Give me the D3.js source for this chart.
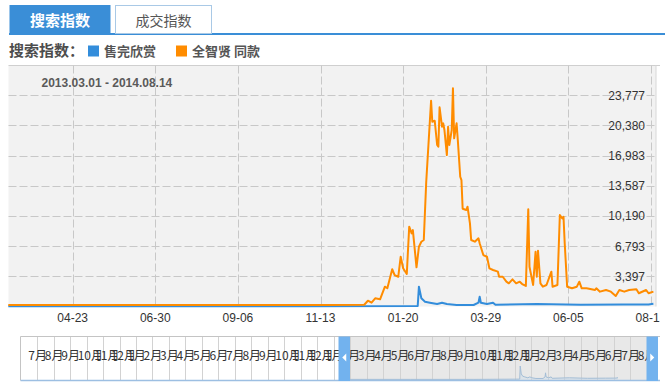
<!DOCTYPE html>
<html><head><meta charset="utf-8">
<script src="https://cdn.jsdelivr.net/npm/d3@7"></script>
<style>
body{margin:0;background:#fff;}
svg{display:block;}
</style></head><body>
<svg id="c" width="665" height="388"></svg>
<script>
// ---------------- data ----------------
const tabLabels = ["搜索指数", "成交指数"];
const legendTitle = "搜索指数：";
const seriesNames = ["售完欣赏", "全智贤 同款"];
const rangeLabel = "2013.03.01 - 2014.08.14";
const dateDomain = ["2013-03-01", "2014-08-14"];

const blueDates = ["2013-03-01","2013-07-01","2013-11-01","2014-02-01","2014-02-02","2014-02-04","2014-02-07","2014-02-11","2014-02-17","2014-02-21","2014-02-25","2014-03-05","2014-03-19","2014-03-23","2014-03-24","2014-03-25","2014-03-30","2014-04-04","2014-04-06","2014-05-10","2014-06-15","2014-07-20","2014-08-10","2014-08-14"];
const blueValues = [20,20,20,60,2230,920,540,430,280,430,280,170,170,430,1100,430,280,430,200,280,200,220,230,300];

const orangeDates = ["2013-03-01","2013-04-15","2013-06-01","2013-07-20","2013-09-01","2013-10-15","2013-11-20","2013-12-19","2013-12-22","2013-12-25","2013-12-28","2014-01-01","2014-01-05","2014-01-07","2014-01-11","2014-01-13","2014-01-16","2014-01-18","2014-01-20","2014-01-23","2014-01-25","2014-01-27","2014-01-28","2014-01-31","2014-02-02","2014-02-04","2014-02-06","2014-02-08","2014-02-12","2014-02-13","2014-02-15","2014-02-17","2014-02-18","2014-02-19","2014-02-21","2014-02-22","2014-02-23","2014-02-25","2014-02-26","2014-02-27","2014-03-01","2014-03-02","2014-03-03","2014-03-05","2014-03-06","2014-03-08","2014-03-09","2014-03-10","2014-03-13","2014-03-14","2014-03-16","2014-03-17","2014-03-20","2014-03-23","2014-03-24","2014-03-27","2014-03-30","2014-04-01","2014-04-04","2014-04-08","2014-04-09","2014-04-12","2014-04-15","2014-04-17","2014-04-20","2014-04-23","2014-04-26","2014-04-28","2014-05-01","2014-05-03","2014-05-04","2014-05-07","2014-05-09","2014-05-10","2014-05-11","2014-05-13","2014-05-15","2014-05-18","2014-05-22","2014-05-23","2014-05-27","2014-05-29","2014-05-31","2014-06-01","2014-06-02","2014-06-04","2014-06-08","2014-06-12","2014-06-14","2014-06-16","2014-06-20","2014-06-27","2014-06-28","2014-07-01","2014-07-06","2014-07-10","2014-07-14","2014-07-17","2014-07-21","2014-07-25","2014-07-31","2014-08-02","2014-08-08","2014-08-10","2014-08-14"];
const orangeValues = [170,160,180,170,160,170,180,200,650,430,920,810,2230,2050,4190,3540,3350,5600,4300,3660,8980,8230,8600,4410,6730,7290,7480,14000,23150,20790,20900,18170,17980,22410,20230,20610,19860,17040,20230,18170,19860,24550,18920,20610,18730,14600,14230,11000,10860,11230,9360,7480,7290,7670,7110,5790,5600,4300,4110,3920,3350,3350,2790,2610,3060,2610,2790,2530,2310,10930,4480,2420,6160,3350,6280,2610,2230,2420,3920,2230,2420,10290,9900,10100,7110,2230,2050,2230,2790,2050,2050,1860,2050,1670,1860,1670,1180,1860,1670,1860,1940,1490,1860,1490,1670];

const xTickDates = ["2013-04-23","2013-06-30","2013-09-06","2013-11-13","2014-01-20","2014-03-29","2014-06-05","2014-08-12"];
const xTickLabels = ["04-23","06-30","09-06","11-13","01-20","03-29","06-05","08-12"];
const yTicks = [3397, 6793, 10190, 13587, 16983, 20380, 23777];
const yTickLabels = ["3,397","6,793","10,190","13,587","16,983","20,380","23,777"];
const navMonthLabels = ["7月","8月","9月","10月","11月","12月","1月","2月","3月","4月","5月","6月","7月","8月","9月","10月","11月","12月","1月","2月","3月","4月","5月","6月","7月","8月","9月","10月","11月","12月","1月","2月","3月","4月","5月","6月","7月","8月"];

// ---------------- drawing ----------------
const parse = d3.timeParse("%Y-%m-%d");
const svg = d3.select("#c");
const BLUE = "#338ddb", ORANGE = "#ff8c00", TAB = "#3a8ed7";
const CJK = "'Noto Sans CJK SC', sans-serif";
const LAT = "'Liberation Sans', Arial, sans-serif";

// tabs
svg.append("rect").attr("x", 9).attr("y", 33).attr("width", 656).attr("height", 2).attr("fill", TAB);
svg.append("rect").attr("x", 9.5).attr("y", 5).attr("width", 101).attr("height", 29).attr("fill", TAB);
svg.append("rect").attr("x", 115.5).attr("y", 5.5).attr("width", 96).attr("height", 28).attr("fill", "#fff").attr("stroke", "#a9c9e6");
svg.append("text").attr("x", 60).attr("y", 25.5).attr("text-anchor", "middle").attr("font-family", CJK).attr("font-weight", "bold").attr("font-size", 15).attr("fill", "#fff").text(tabLabels[0]);
svg.append("text").attr("x", 163.5).attr("y", 25.5).attr("text-anchor", "middle").attr("font-family", CJK).attr("font-size", 14).attr("fill", "#555").text(tabLabels[1]);

// legend
svg.append("text").attr("x", 9).attr("y", 56).attr("font-family", CJK).attr("font-weight", "bold").attr("font-size", 15).attr("fill", "#4d4d4d").text(legendTitle);
const legendX = [88, 176];
const colors = [BLUE, ORANGE];
seriesNames.forEach((n, i) => {
  svg.append("rect").attr("x", legendX[i]).attr("y", 45.5).attr("width", 11).attr("height", 11).attr("fill", colors[i]);
  svg.append("text").attr("x", legendX[i] + 16).attr("y", 56).attr("font-family", CJK).attr("font-weight", "bold").attr("font-size", 13).attr("fill", "#555").text(n);
});

// plot area
const PL = 8.5, PR = 656, PT = 65.5, PB = 306.5;
svg.append("defs").append("clipPath").attr("id", "clipAll").append("rect").attr("x", 0).attr("y", 0).attr("width", 660).attr("height", 388);
const root = svg.append("g").attr("clip-path", "url(#clipAll)");
root.append("rect").attr("x", PL).attr("y", PT).attr("width", PR - PL).attr("height", PB - PT).attr("fill", "#f2f2f2");
root.append("line").attr("x1", PL).attr("x2", 660).attr("y1", PT).attr("y2", PT).attr("stroke", "#cfcfcf");
root.append("line").attr("x1", PR).attr("x2", PR).attr("y1", PT).attr("y2", PB).attr("stroke", "#d8d8d8");

const x = d3.scaleTime().domain(dateDomain.map(parse)).range([8.3, 653.4]);
const yMax = yTicks[yTicks.length - 1] / yTicks.length * (yTicks.length + 1);
const y = d3.scaleLinear().domain([0, yMax]).range([PB, 65]);

// grid
root.selectAll(".vg").data(xTickDates).enter().append("line")
  .attr("x1", d => Math.round(x(parse(d))) + 0.5).attr("x2", d => Math.round(x(parse(d))) + 0.5)
  .attr("y1", PT).attr("y2", PB).attr("stroke", "#c8c8c8").attr("stroke-dasharray", "8,3");
root.selectAll(".hg").data(yTicks).enter().append("line")
  .attr("x1", PL).attr("x2", PR).attr("y1", d => Math.round(y(d)) + 0.5).attr("y2", d => Math.round(y(d)) + 0.5)
  .attr("stroke", "#c8c8c8").attr("stroke-dasharray", "8,3");

// y labels
root.selectAll(".yl").data(yTicks).enter().append("text")
  .attr("x", 645).attr("y", d => y(d) + 4.5).attr("text-anchor", "end")
  .attr("font-family", LAT).attr("font-size", 12).attr("fill", "#333")
  .text((d, i) => yTickLabels[i]);

// x labels
root.selectAll(".xl").data(xTickDates).enter().append("text")
  .attr("x", d => x(parse(d))).attr("y", 322).attr("text-anchor", "middle")
  .attr("font-family", LAT).attr("font-size", 12).attr("fill", "#333")
  .text((d, i) => xTickLabels[i]);

// range label
root.append("text").attr("x", 41.5).attr("y", 87).attr("font-family", LAT).attr("font-weight", "bold").attr("font-size", 12).attr("fill", "#5a5a5a").text(rangeLabel);

// series
const line = d3.line().x(d => x(d[0])).y(d => y(d[1]));
const blue = blueDates.map((d, i) => [parse(d), blueValues[i]]);
const orange = orangeDates.map((d, i) => [parse(d), orangeValues[i]]);
root.append("path").datum(blue).attr("d", line).attr("fill", "none").attr("stroke", BLUE).attr("stroke-width", 2).attr("stroke-linejoin", "round");
root.append("path").datum(orange).attr("d", line).attr("fill", "none").attr("stroke", ORANGE).attr("stroke-width", 2).attr("stroke-linejoin", "round");

// navigator
const NT = 336.5, NB = 380.5, NL = 20.5, NR = 660;
const cell = d3.scaleLinear().domain([0, navMonthLabels.length]).range([20.7, 646.6]);
const selL = 350, selR = 647;
root.append("rect").attr("x", NL).attr("y", NT).attr("width", NR - NL).attr("height", NB - NT).attr("fill", "#fff");
root.append("rect").attr("x", selL).attr("y", NT).attr("width", selR - selL).attr("height", NB - NT).attr("fill", "#e8e8e8");
root.selectAll(".nc").data(d3.range(1, navMonthLabels.length + 1)).enter().append("line")
  .attr("x1", d => Math.round(cell(d)) + 0.5).attr("x2", d => Math.round(cell(d)) + 0.5)
  .attr("y1", NT).attr("y2", NB).attr("stroke", "#d2d2d2");
const nx = d3.scaleTime().domain(dateDomain.map(parse)).range([349, 618]);
const ny = d3.scaleLinear().domain([0, d3.max(blueValues)]).range([NB - 1, 366]);
const area = d3.area().x(d => nx(d[0])).y0(NB - 1).y1(d => ny(d[1]));
root.append("path").datum(blue).attr("d", area).attr("fill", "#d4dfe9").attr("opacity", 0.6);
root.append("path").datum(blue).attr("d", d3.line().x(d => nx(d[0])).y(d => ny(d[1]))).attr("fill", "none").attr("stroke", "#a3bdd6").attr("stroke-width", 1);
root.selectAll(".nl").data(navMonthLabels).enter().append("text")
  .attr("x", (d, i) => cell(i) + 7.6).attr("y", 360)
  .attr("font-family", CJK).attr("font-size", 12).attr("fill", "#333").text(d => d);
root.append("line").attr("x1", NL).attr("x2", NR).attr("y1", NT).attr("y2", NT).attr("stroke", "#c4c4c4");
root.append("line").attr("x1", NL).attr("x2", NL).attr("y1", NT).attr("y2", NB).attr("stroke", "#c4c4c4");
root.append("line").attr("x1", NL).attr("x2", NR).attr("y1", NB).attr("y2", NB).attr("stroke", "#9dbfe2").attr("stroke-width", 1.5);
// handles
const handles = [{x0: 338.5, dir: -1}, {x0: 646.5, dir: 1}];
handles.forEach(h => {
  root.append("rect").attr("x", h.x0).attr("y", NT).attr("width", 11.5).attr("height", NB - NT + 0.5).attr("fill", "#72b2ee");
  const cx = h.x0 + 5.75, cy = 357.5;
  const pts = h.dir < 0 ? [[cx + 2, cy - 4], [cx + 2, cy + 4], [cx - 2, cy]] : [[cx - 2, cy - 4], [cx - 2, cy + 4], [cx + 2, cy]];
  root.append("path").attr("d", "M" + pts.map(p => p.join(",")).join("L") + "Z").attr("fill", "#fff");
});
</script>
</body></html>
